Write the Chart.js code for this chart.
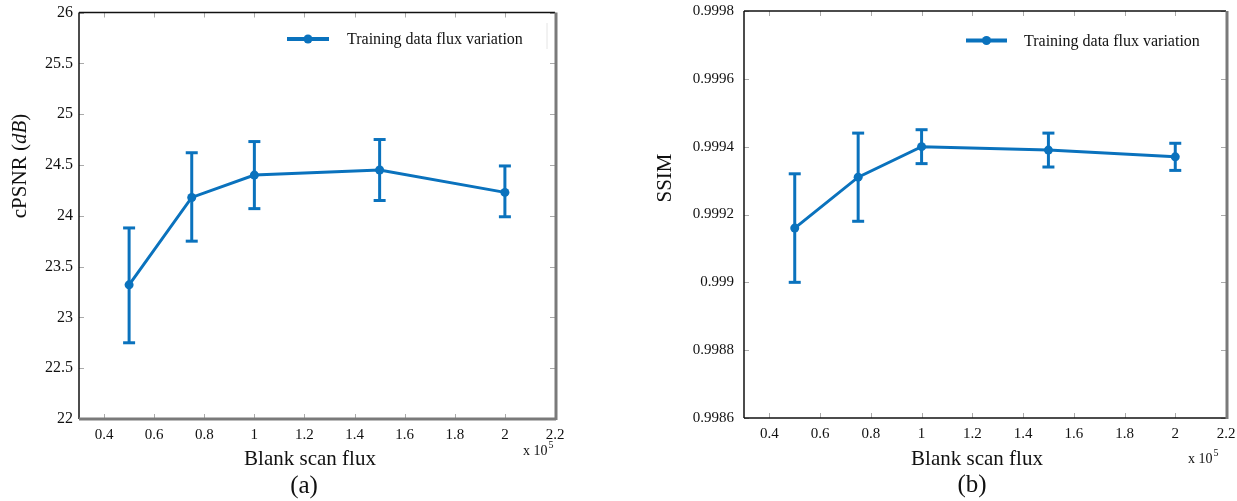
<!DOCTYPE html>
<html>
<head>
<meta charset="utf-8">
<script src="https://cdn.jsdelivr.net/npm/chart.js"></script>
<style>
  body { margin: 0; background: #fff; width: 1237px; height: 501px; overflow: hidden; position: relative; }
  canvas { position: absolute; top: 0; }
  #chartA { left: 0; }
  #chartB { left: 620px; }
</style>
</head>
<body>
<canvas id="chartA" width="620" height="501"></canvas>
<canvas id="chartB" width="617" height="501"></canvas>
<script>
// data
const fluxX = [0.5, 0.75, 1.0, 1.5, 2.0];
const psnrMean = [23.32, 24.18, 24.40, 24.45, 24.23];
const psnrLow = [22.75, 23.75, 24.07, 24.15, 23.99];
const psnrHigh = [23.88, 24.62, 24.73, 24.75, 24.49];
const ssimMean = [0.99916, 0.99931, 0.99940, 0.99939, 0.99937];
const ssimLow = [0.99900, 0.99918, 0.99935, 0.99934, 0.99933];
const ssimHigh = [0.99932, 0.99944, 0.99945, 0.99944, 0.99941];
const xTicks = [0.4, 0.6, 0.8, 1.0, 1.2, 1.4, 1.6, 1.8, 2.0, 2.2];
const psnrTicks = [22, 22.5, 23, 23.5, 24, 24.5, 25, 25.5, 26];
const ssimTicks = [0.9986, 0.9988, 0.999, 0.9992, 0.9994, 0.9996, 0.9998];
const seriesLabel = 'Training data flux variation';

const BLUE = '#0a72bd';
const SERIF = '"Liberation Serif", "Times New Roman", serif';

function fmt(v) {
    return String(parseFloat(v.toFixed(4)));
}

function line(ctx, x1, y1, x2, y2) {
    ctx.beginPath();
    ctx.moveTo(x1, y1);
    ctx.lineTo(x2, y2);
    ctx.stroke();
}

const errorBars = {
    id: 'errorBars',
    beforeDatasetsDraw(chart, args, opts) {
        const { ctx, scales: { x, y } } = chart;
        ctx.save();
        ctx.strokeStyle = BLUE;
        ctx.lineWidth = 3;
        opts.low.forEach((lo, i) => {
            const px = x.getPixelForValue(fluxX[i]);
            const y1 = y.getPixelForValue(lo);
            const y2 = y.getPixelForValue(opts.high[i]);
            line(ctx, px, y1, px, y2);
            line(ctx, px - 6, y1, px + 6, y1);
            line(ctx, px - 6, y2, px + 6, y2);
        });
        ctx.restore();
    }
};

// box, inward ticks, legend and titles
const frame = {
    id: 'frame',
    afterDraw(chart, args, o) {
        const { ctx, chartArea: a, scales: { x, y } } = chart;
        ctx.save();

        ctx.strokeStyle = '#aaa';
        ctx.lineWidth = 1;
        x.ticks.forEach(t => {
            const px = Math.round(x.getPixelForValue(t.value)) + 0.5;
            line(ctx, px, a.bottom, px, a.bottom - 5);
            line(ctx, px, a.top, px, a.top + 5);
        });
        y.ticks.forEach(t => {
            const py = Math.round(y.getPixelForValue(t.value)) + 0.5;
            line(ctx, a.left, py, a.left + 5, py);
            line(ctx, a.right, py, a.right - 5, py);
        });

        // frame
        ctx.strokeStyle = '#111';
        ctx.lineWidth = 1.5;
        line(ctx, a.left, a.top, a.right, a.top);
        line(ctx, a.left, a.top, a.left, a.bottom);
        ctx.strokeStyle = o.bottomColor;
        ctx.lineWidth = o.bottomWidth;
        line(ctx, a.left, a.bottom, a.right + 1, a.bottom);
        ctx.strokeStyle = '#7a7a7a';
        ctx.lineWidth = 3;
        line(ctx, a.right + 1, a.top, a.right + 1, a.bottom + 1);

        // legend
        const lg = o.legend;
        ctx.strokeStyle = BLUE;
        ctx.lineWidth = 4;
        line(ctx, lg.x1, lg.y, lg.x2, lg.y);
        ctx.fillStyle = BLUE;
        ctx.beginPath();
        ctx.arc((lg.x1 + lg.x2) / 2, lg.y, 4.5, 0, Math.PI * 2);
        ctx.fill();
        ctx.fillStyle = '#111';
        ctx.font = '16px ' + SERIF;
        ctx.textBaseline = 'middle';
        ctx.textAlign = 'left';
        ctx.fillText(seriesLabel, lg.textX, lg.y + 1);
        if (lg.boxX) {
            ctx.strokeStyle = '#e4e4e4';
            ctx.lineWidth = 1;
            line(ctx, lg.boxX, lg.y - 16, lg.boxX, lg.y + 10);
        }

        // y title (rotated, with italic part)
        ctx.save();
        ctx.translate(o.yTitle.x, o.yTitle.y);
        ctx.rotate(-Math.PI / 2);
        const parts = o.yTitle.parts;
        let total = 0;
        parts.forEach(p => {
            ctx.font = (p.italic ? 'italic ' : '') + '21px ' + SERIF;
            total += ctx.measureText(p.text).width;
        });
        let cx = -total / 2;
        parts.forEach(p => {
            ctx.font = (p.italic ? 'italic ' : '') + '21px ' + SERIF;
            ctx.fillText(p.text, cx, 0);
            cx += ctx.measureText(p.text).width;
        });
        ctx.restore();

        // x title and panel tag
        ctx.textAlign = 'center';
        ctx.font = '21px ' + SERIF;
        ctx.fillText('Blank scan flux', o.xTitle.x, o.xTitle.y);
        ctx.font = '25px ' + SERIF;
        ctx.fillText(o.tag.text, o.tag.x, o.tag.y);

        // exponent
        ctx.textAlign = 'left';
        ctx.textBaseline = 'alphabetic';
        ctx.font = '14px ' + SERIF;
        ctx.fillText('x 10', o.exp.x, o.exp.y);
        const w = ctx.measureText('x 10').width;
        ctx.font = '10px ' + SERIF;
        ctx.fillText('5', o.exp.x + w + 1, o.exp.y - 7);

        ctx.restore();
    }
};

function makeChart(id, mean, low, high, yMin, yMax, yTickList, area, tickSize, tickPad, extra) {
    const canvas = document.getElementById(id);
    return new Chart(canvas.getContext('2d'), {
        type: 'scatter',
        data: {
            datasets: [{
                label: seriesLabel,
                data: fluxX.map((v, i) => ({ x: v, y: mean[i] })),
                showLine: true,
                borderColor: BLUE,
                borderWidth: 3,
                pointRadius: 4.5,
                pointBackgroundColor: BLUE,
                pointBorderWidth: 0
            }]
        },
        options: {
            responsive: false,
            animation: false,
            layout: { padding: { left: 0, right: canvas.width - area.right, top: area.top, bottom: 0 } },
            scales: {
                x: {
                    type: 'linear',
                    min: 0.3,
                    max: 2.2,
                    afterBuildTicks: s => { s.ticks = xTicks.map(v => ({ value: v })); },
                    afterFit: s => {
                        s.height = canvas.height - area.bottom;
                        s.paddingLeft = 0;
                        s.paddingRight = 0;
                    },
                    grid: { display: false, drawTicks: false },
                    border: { display: false },
                    ticks: {
                        padding: 7,
                        color: '#111',
                        maxRotation: 0,
                        autoSkip: false,
                        font: { family: SERIF, size: 15 },
                        callback: v => fmt(v)
                    }
                },
                y: {
                    type: 'linear',
                    min: yMin,
                    max: yMax,
                    afterBuildTicks: s => { s.ticks = yTickList.map(v => ({ value: v })); },
                    afterFit: s => {
                        s.width = area.left;
                        s.paddingTop = 0;
                        s.paddingBottom = 0;
                    },
                    grid: { display: false, drawTicks: false },
                    border: { display: false },
                    ticks: {
                        padding: tickPad,
                        color: '#111',
                        autoSkip: false,
                        font: { family: SERIF, size: tickSize },
                        callback: v => fmt(v)
                    }
                }
            },
            plugins: {
                legend: { display: false },
                tooltip: { enabled: false },
                errorBars: { low, high },
                frame: extra
            }
        },
        plugins: [errorBars, frame]
    });
}

makeChart('chartA', psnrMean, psnrLow, psnrHigh, 22, 26, psnrTicks,
    { left: 79, right: 555, top: 12.5, bottom: 419 }, 16, 6, {
        bottomColor: '#7a7a7a',
        bottomWidth: 3,
        legend: { x1: 287, x2: 329, y: 39, textX: 347, boxX: 547 },
        yTitle: { x: 20, y: 166, parts: [{ text: 'cPSNR (' }, { text: 'dB', italic: true }, { text: ')' }] },
        xTitle: { x: 310, y: 459 },
        tag: { text: '(a)', x: 304, y: 486 },
        exp: { x: 523, y: 455 }
    });

makeChart('chartB', ssimMean, ssimLow, ssimHigh, 0.9986, 0.9998, ssimTicks,
    { left: 124, right: 606, top: 11, bottom: 418 }, 15, 10, {
        bottomColor: '#111',
        bottomWidth: 1.5,
        legend: { x1: 346, x2: 387, y: 40.5, textX: 404 },
        yTitle: { x: 45, y: 178, parts: [{ text: 'SSIM' }] },
        xTitle: { x: 357, y: 459 },
        tag: { text: '(b)', x: 352, y: 485 },
        exp: { x: 568, y: 463 }
    });
</script>
</body>
</html>
